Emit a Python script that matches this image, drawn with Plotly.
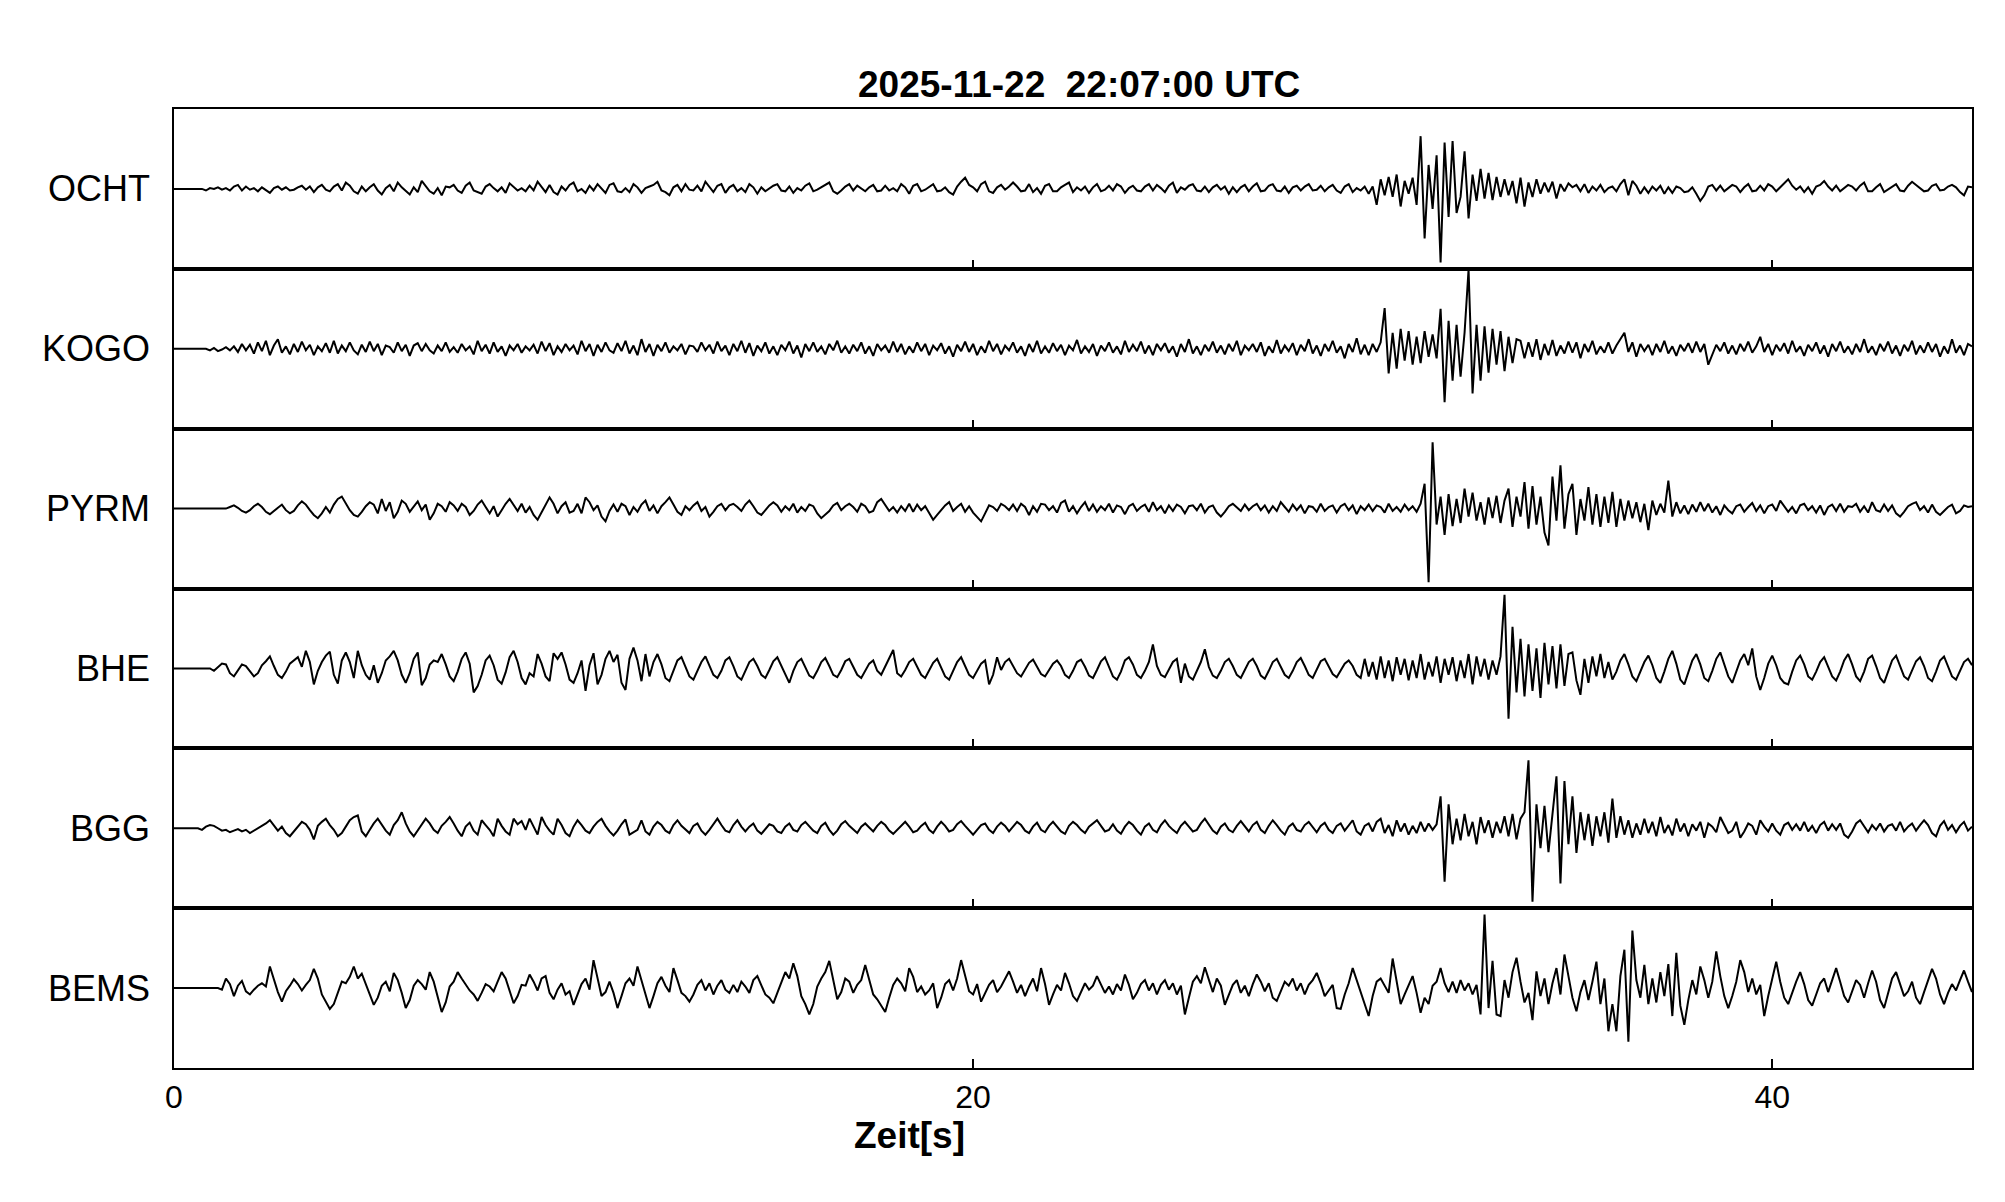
import plotly.graph_objects as go
from plotly.subplots import make_subplots

TITLE = "2025-11-22  22:07:00 UTC"
X_TITLE = "Zeit[s]"
STATIONS = ["OCHT", "KOGO", "PYRM", "BHE", "BGG", "BEMS"]
SAMPLE_INTERVAL = 0.1  # seconds
X_TICKS = [0, 20, 40]

OCHT = [
    0, 0, 0, 0, 0, 0, 0, 0, -2, 1,
    0, 2, -1, 1, -2, 3, 5, -2, 3, -1,
    1, -3, 2, -2, -5, 1, 3, -1, 2, -2,
    -1, 2, 4, -1, 3, -4, 2, 5, -1, -3,
    3, 6, -2, 8, 4, -3, -6, 3, -3, 2,
    6, -2, -7, 1, 5, -3, 8, 2, -2, -7,
    2, -4, 10, 3, -3, -6, 1, -8, 3, 2,
    5, -2, -5, 4, 8, -2, -4, -6, 3, 6,
    1, -3, 2, -5, 7, 3, -2, 1, -3, 4,
    -2, 9, 3, -4, 5, -4, -7, 3, -2, 5,
    8, -3, 0, -5, 4, -2, 6, 1, -5, 5,
    7, -3, -4, 1, -4, 6, 2, -5, 1, 3,
    5, 9, -2, -4, -8, 2, 5, -3, 6, -1,
    -2, 4, -3, 9, 2, -4, 4, 6, -5, 2,
    5, -3, 1, -4, 6, 2, -6, 2, -3, 1,
    4, 6, -2, -3, 3, -5, 1, -2, 4, 7,
    -3, -1, 2, 5, 8, -3, -6, -2, 3, 6,
    -2, 4, 1, -3, 2, 5, -3, -2, 4, -2,
    1, -3, 6, 2, -6, 4, 6, -3, -1, 2,
    6, -3, -2, 2, -4, -7, 3, 9, 14, 5,
    2, -3, 6, 9, -3, -5, 2, 5, -1, 3,
    8, 3, -3, -2, 6, -4, 1, -6, 4, 6,
    -3, -3, 2, 5, 8, -4, 2, -2, 3, -5,
    2, 6, -3, -1, 4, -2, 6, 3, -5, 1,
    4, -2, -3, 3, 6, -2, 5, 1, -4, 4,
    8, -5, 2, -1, 4, 6, -2, -3, 3, -4,
    2, 5, -1, 3, -6, 2, -4, 2, 5, -3,
    3, 7, -3, -2, 4, 6, -2, -3, 3, -5,
    2, 4, -2, 3, 6, -2, -1, 4, -3, 2,
    5, -2, -5, 3, 6, -4, 1, -2, 3, -6,
    3, -20, 12, -8, 15, -10, 18, -22, 10, -6,
    14, -20, 66, -62, 30, -25, 42, -92, 58, -35,
    60, -30, -10, 47, -37, 18, -15, 25, -12, 20,
    -14, 15, -10, 12, -8, 10, -18, 14, -22, 8,
    -10, 12, -6, 8, -4, 9, -12, 6, -3, 7,
    2, 5, -3, 6, -5, 3, -2, 5, -4, 1,
    3, -3, 6, 12, -8, 10, 4, -6, 2, -5,
    3, -2, 4, -6, 2, -5, 3, 1, -4, -3,
    2, -6, -15, -8, 3, 5, -2, 4, -3, 1,
    5, 3, -4, 2, 6, -3, -2, 4, -2, 6,
    3, -3, 2, 7, 12, 4, -1, 3, -4, 2,
    -6, 3, 5, 10, 3, -2, 4, -3, 1, 5,
    3, -2, 4, 8, -3, -3, 2, 6, -4, -1,
    3, 6, -2, -3, 4, 9, 5, 1, -3, -2,
    4, 6, -2, -1, 3, 5, 2, -4, -8, 3,
    2,
]

KOGO = [
    0, 0, 0, 0, 0, 0, 0, 0, 0, -2,
    1, -3, -1, 2, -2, 3, -4, 6, -2, 5,
    -6, 8, -3, 10, -8, 4, 12, -5, 3, -7,
    6, -4, 9, -2, 5, -8, 3, -3, 7, -5,
    10, -6, 4, -3, 8, -2, -7, 5, -4, 9,
    -3, 6, -8, 4, 2, -5, 8, -3, 5, -9,
    4, 7, -3, 6, -2, -6, 4, -3, 8, -4,
    2, -5, 6, -2, 3, -7, 10, -3, 5, -6,
    8, -4, 3, -9, 4, -2, 6, -5, 3, -2,
    5, -6, 9, -3, 7, -8, 3, -4, 6, -2,
    4, -7, 10, -3, 6, -9, 5, -4, 8, -2,
    -5, 7, -3, 10, -6, 4, -8, 12, -4, 6,
    -9, 5, -3, 8, -5, 3, -2, 6, -7, 4,
    3, -4, 8, -2, 5, -6, 9, -3, 4, -8,
    6, -3, 10, -5, 7, -9, 4, -3, 8, -6,
    3, -8, 5, -2, 9, -6, 4, -11, 6, -3,
    8, -4, 3, -7, 6, -2, 10, -5, 3, -6,
    5, -3, 8, -6, 3, -9, 6, -2, 4, -5,
    9, -4, 6, -7, 3, -5, 8, -3, 6, -8,
    4, -2, 7, -6, 3, -10, 5, -3, 9, -4,
    6, -8, 3, -5, 10, -3, 6, -7, 4, -2,
    8, -5, 3, -9, 6, -4, 10, -6, 3, -5,
    7, -3, 5, -8, 4, -2, 11, -6, 3, -4,
    6, -9, 4, -3, 8, -5, 3, -7, 10, -4,
    5, -3, 9, -6, 4, -8, 6, -2, 7, -5,
    3, -10, 6, -4, 12, -6, 3, -8, 5, -3,
    9, -5, 4, -7, 6, -3, 10, -8, 4, -2,
    6, -4, 8, -9, 3, -5, 11, -6, 4, -3,
    7, -8, 5, -3, 12, -6, 4, -9, 6, -3,
    10, -5, 3, -12, 6, -4, 13, -7, 5, -8,
    6, -4, 8, 51, -31, 20, -25, 25, -15, 22,
    -20, 15, -18, 22, -10, 18, -12, 50, -67, 35,
    -40, 30, -35, 20, 99, -56, 30, -40, 28, -30,
    25, -20, 22, -28, 15, -18, 12, 10, -12, 8,
    -10, 12, -14, 6, -8, 11, -9, 4, -6, 9,
    -5, 8, -12, 6, -4, 10, -7, 3, -5, 8,
    -6, 4, 12, 20, -4, 8, -10, 6, -3, 5,
    -8, 6, -4, 10, -6, 3, -9, 5, -3, 7,
    -5, 9, -4, 6, -20, -8, 5, -3, 8, -6,
    4, -7, 6, -3, 9, -5, 3, 15, -4, 6,
    -8, 5, -3, 7, -6, 10, -4, 3, -9, 5,
    -3, 8, -6, 4, -10, 6, -3, 9, -5, 3,
    -7, 6, -4, 12, -5, 3, -8, 6, -3, 9,
    -6, 4, -9, 5, -3, 10, -7, 4, -5, 8,
    -4, 6, -10, 3, -6, 12, -5, 4, -8, 6,
    3,
]

PYRM = [
    0, 0, 0, 0, 0, 0, 0, 0, 0, 0,
    0, 0, 0, 0, 2, 4, 1, -3, -5, -2,
    3, 6, 2, -4, -7, -3, 1, 5, -2, -6,
    -3, 4, 9, 5, -2, -8, -12, -6, 2, -5,
    5, 12, 15, 6, -2, -8, -10, -4, 3, 8,
    5, -6, 12, -3, 8, -12, -4, 10, 6, -4,
    3, 9, -2, 5, -14, -6, 6, 3, -4, 8,
    4, -3, 6, 2, -8, -3, 5, 10, 2, -6,
    3, -10, -2, 6, 12, 4, -3, 6, -5, 2,
    -8, -14, -4, 5, 14, 6, -6, 3, 8, -5,
    -3, 6, -6, 14, 8, -2, 4, -10, -16, -3,
    5, -4, 6, 3, -8, 2, -4, 5, 10, -3,
    4, -6, 3, 8, 14, 5, -4, -8, 3, -2,
    4, 8, -3, 2, -10, -4, 3, 6, -2, 4,
    6, 2, -3, 5, 10, 3, -5, -8, -2, 4,
    8, 4, -4, 3, -2, 6, -5, 2, -3, 5,
    3, -6, -12, -8, -3, 4, 7, -2, 3, 6,
    2, -4, 6, 3, -5, -3, 8, 12, 4, -3,
    2, -5, 3, -3, 6, -4, 5, -2, 3, -6,
    -14, -8, -2, 4, 8, -3, 2, 6, -4, 3,
    -5, -10, -16, -6, 4, 2, -3, 6, 3, -2,
    5, -3, 6, 2, -8, 3, -4, 6, 5, -2,
    3, -5, 7, 10, -4, 3, -6, 2, 8, -3,
    5, -4, 3, -2, 6, -5, 4, 2, -7, 3,
    6, -3, 2, 5, -4, 8, -2, 3, -6, 4,
    -3, 5, 2, -6, 3, 4, -2, 6, -5, 2,
    4, -5, -10, -4, 3, 6, 2, -3, 5, -2,
    3, 6, -2, 4, -5, 3, -3, 8, 2, -4,
    5, -2, 4, -6, 3, 2, -4, 6, -3, 2,
    4, -5, 3, 6, -2, 4, -7, 3, -2, 5,
    -3, 4, 2, -5, 6, -3, 2, -4, 5, -2,
    3, -4, 6, 31, -92, 83, -20, 15, -33, 18,
    -22, 12, -18, 25, -10, 20, -15, 8, -20, 14,
    -12, 16, -18, 10, 25, -23, 15, -10, 33, -25,
    28, -20, 15, -30, -46, 40, -15, 54, -25, 18,
    31, -33, 12, -15, 27, -20, 18, -23, 15, -18,
    21, -23, 12, -15, 10, -12, 8, -17, 6, -27,
    10, -8, 6, -5, 35, -10, 8, -6, 4, -7,
    5, -4, 8, -3, 6, -5, 3, -8, 4, -2,
    -6, 3, 5, -4, 2, 7, -3, 4, -6, 3,
    5, -3, 10, 3, -4, 2, -6, 4, 6, -2,
    3, -5, 4, -8, 2, 5, -3, 6, -4, 3,
    2, 6, -4, 3, -5, 8, -2, -4, 5, -3,
    4, -6, -10, -4, 3, 6, 8, -2, 3, -5,
    5, -4, -8, -3, 2, 5, -6, -3, 4, 2,
    3,
]

BHE = [
    0, 0, 0, 0, 0, 0, 0, 0, 0, 0,
    -3, 2, 6, 5, -6, -10, -3, 5, 3, -4,
    -10, -6, 4, 9, 15, 3, -8, -12, -4, 6,
    10, 14, 2, 22, 8, -20, -3, 8, 16, 21,
    -8, -19, 10, 20, 8, -12, 22, 4, -8, -14,
    4, -18, -6, 10, 15, 22, 10, -8, -18, -6,
    12, 20, -21, -12, 5, 10, 8, 18, 5, -10,
    -16, -4, 12, 20, 6, -30, -22, -8, 10, 16,
    4, -14, -19, -5, 14, 22, 8, -12, -20, -6,
    -10, 18, 6, -10, -16, 19, 12, 20, 5, -14,
    -18, -6, 10, -28, 4, 19, -20, -8, 12, 22,
    8, 17, -18, -27, 12, 26, 10, -16, 18, -10,
    8, 18, 5, -12, -16, -4, 10, 14, 3, -10,
    -14, -4, 8, 15, 4, -8, -12, -3, 10, 14,
    3, -10, -14, -4, 8, 12, 3, -8, -12, -2,
    9, 14, 4, -8, -18, -3, 8, 12, 2, -9,
    -12, -3, 8, 13, 3, -8, -11, -2, 9, 12,
    2, -8, -12, -3, 6, 10, -3, -8, 2, 12,
    23, -6, -10, -2, 8, 12, 2, -8, -12, -3,
    7, 12, 2, -10, -14, -4, 8, 14, 4, -8,
    -12, -3, 6, 10, -20, -8, 14, -2, 8, 12,
    3, -6, -10, -2, 7, 11, 2, -7, -10, -2,
    6, 10, 3, -8, -12, -3, 8, 11, 2, -9,
    -12, -2, 9, 14, 3, -10, -14, -4, 10, 14,
    5, -8, -12, -3, 8, 30, 3, -8, -11, -2,
    8, 12, -18, 6, -10, -14, -4, 8, 24, 2,
    -9, -12, -3, 8, 12, 3, -8, -12, -2, 8,
    12, 3, -9, -13, -3, 8, 12, 2, -8, -12,
    -3, 8, 13, 3, -8, -12, -2, 9, 12, 2,
    -7, -11, -3, 6, 10, 3, -8, -12, 12, -10,
    8, -14, 15, -12, 10, -16, 14, -8, 12, -15,
    10, -12, 18, -14, 8, -10, 15, -18, 12, -8,
    14, -16, 10, -12, 18, -20, 15, -10, 12, -14,
    10, -8, 15, 92, -63, 52, -30, 37, -35, 30,
    -28, 25, -37, 32, -20, 28, -25, 30, -22, 18,
    20, -15, -33, 12, -18, 15, -10, 18, -12, 8,
    -14, -4, 10, 18, 5, -10, -16, -5, 8, 16,
    4, -12, -18, -4, 12, 22, 6, -14, -20, -5,
    10, 18, 5, -12, -16, -3, 12, 20, 6, -10,
    -18, -4, 10, 18, 4, 25, -10, -27, -12, 6,
    16, 4, -12, -18, -20, -4, 10, 16, 5, -10,
    -14, -4, 8, 14, 3, -10, -15, -4, 10, 18,
    5, -10, -16, -4, 12, 16, 3, -12, -18, -4,
    10, 16, 4, -10, -14, -3, 9, 14, 3, -12,
    -16, -4, 10, 15, 3, -10, -14, -3, 8, 12,
    4,
]

BGG = [
    0, 0, 0, 0, 0, 0, 0, -2, 2, 4,
    3, 0, -3, -2, -5, -3, -1, -4, -2, -6,
    -3, -1, 2, 6, 10, 4, -3, 2, -6, -10,
    -4, 2, 8, 5, -2, -14, 3, 8, 12, 4,
    -2, -10, -6, 2, 10, 14, 16, -4, -10, -2,
    6, 12, 4, -3, -8, 4, 10, 20, 6, -4,
    -10, -3, 5, 12, 6, -2, -6, 3, 8, 14,
    6, -3, -10, 2, 7, -3, -8, 10, 4, -2,
    -10, 12, 3, -4, -8, 12, 5, 9, -2, 12,
    2, -8, 14, 4, -3, -8, 12, 4, -6, -10,
    2, 10, 4, -3, -6, 2, 8, 12, 3, -4,
    -9, -3, 5, 11, -8, -5, -2, 10, -4, -8,
    2, 8, 4, -3, -6, 4, 10, 3, -2, -6,
    3, 6, -3, -8, -2, 5, 12, 4, -3, -5,
    4, 10, 2, -4, 2, 6, -3, -7, -1, 5,
    3, -4, -6, 2, 6, -2, -4, 4, 8, 2,
    -3, -6, 3, 7, -2, -8, -3, 5, 9, 3,
    -2, -6, 2, 6, 1, -4, 3, 8, 4, -3,
    -7, -2, 4, 8, 2, -5, -3, 3, 7, -2,
    -6, 2, 8, 3, -4, -2, 5, 9, 3, -3,
    -8, -2, 4, 6, -2, -6, 2, 7, 3, -4,
    2, 8, 4, -3, -6, 2, 7, -2, -5, 3,
    8, 2, -4, -7, 3, 8, 4, -2, -6, 2,
    6, 10, 3, -4, -2, 5, -3, -7, 2, 8,
    4, -3, -8, 2, 6, -2, -5, 4, 10, 3,
    -2, -6, 3, 8, 2, -4, -2, 6, 12, 4,
    -3, -7, 2, 6, -2, -5, 3, 9, 2, -4,
    4, 8, -2, -6, 3, 10, 4, -3, -8, 2,
    6, -2, -4, 4, 8, 2, -5, 3, 7, -2,
    -6, 3, 6, -3, 4, 10, -4, -8, 3, 6,
    -4, 8, 12, -6, 4, -10, 10, -4, 6, -8,
    3, -6, 8, -4, 6, -2, 5, 40, -67, 30,
    -20, 12, -15, 18, -10, 8, -20, 14, -6, 10,
    -12, 8, -6, 15, -10, 18, -14, 12, 20, 85,
    -92, 30, -25, 28, -30, 20, 65, -69, 59, -20,
    40, -31, 20, -15, 18, -22, 15, -10, 20, -18,
    37, -12, 15, -8, 10, -12, 6, -8, 12, -6,
    8, -10, 14, -6, 4, -9, 12, -4, 6, -10,
    5, -3, 8, -12, 6, 2, -5, 14, 4, -6,
    -3, 8, -12, -4, 6, 3, -8, 10, 2, -4,
    6, -3, -8, 4, 7, -2, 5, -3, 8, -4,
    3, -6, 4, 8, -3, 5, -2, 6, -8, -12,
    -4, 6, 10, 3, -5, 4, -2, 6, -4, 3,
    5, -3, 8, -4, 2, 6, -3, 4, 10, 4,
    -6, -10, 3, 9, -2, 4, -5, 3, 8, -3,
    2,
]

BEMS = [
    0, 0, 0, 0, 0, 0, 0, 0, 0, 0,
    0, 0, -2, 12, 5, -10, 3, 9, -4, -8,
    -2, 3, 6, 2, 27, 10, -5, -17, -4, 3,
    11, 5, -3, 4, 10, 24, 12, -8, -18, -26,
    -20, -5, 8, 6, 14, 27, 12, 18, 5, -10,
    -21, -12, 3, 8, -4, 19, 10, -6, -25, -15,
    3, 10, 5, -2, 20, 8, -12, -30, -18, 2,
    8, 20, 12, 4, -3, -8, -16, -6, 5, 2,
    -4, 8, 20, 12, -5, -19, -10, 4, 3, 17,
    8, -3, 12, 15, -6, -14, -2, 6, -8, -4,
    -21, -8, 5, 12, -2, 35, 12, -10, -5, 8,
    -6, -25, -10, 6, 12, 3, 27, 10, -8, -25,
    -10, 6, 14, 3, -5, 25, 10, -6, -10, -17,
    -8, 4, 10, -3, 6, -8, 3, 10, -2, -6,
    4, -5, 8, 2, -6, 10, 15, 3, -8, -12,
    -19, -6, 8, 20, 12, 31, 15, -10, -20, -33,
    -20, 2, 12, 20, 34, 10, -14, -5, 12, 8,
    -6, 4, 10, 29, 12, -8, -14, -22, -30, -12,
    4, 12, 6, -4, 25, 14, -5, 2, -8, -3,
    6, -25, -12, 5, 10, -3, 12, 35, 15, -4,
    -8, 5, -17, -6, 4, 10, -5, 2, 12, 21,
    8, -6, 4, -10, 2, 12, -4, 25, 5, -21,
    -8, 4, -3, 19, 6, -10, -16, -4, 6, -2,
    3, 15, 4, -6, 2, -8, 5, -3, 17, 4,
    -14, -6, 5, 10, -3, 6, -8, 4, 10, -2,
    6, -8, 3, -33, -12, 8, 15, 6, 26, 10,
    -5, 12, 3, -21, -8, 4, 10, -6, 3, -10,
    5, 17, 8, -4, 6, -12, -16, -4, 8, 3,
    12, -3, 6, -8, 4, 10, 19, 6, -10, -3,
    4, -25, -26, -8, 6, 25, 10, -6, -20, -35,
    -10, 8, 12, 3, -6, 37, 10, -20, -8, 4,
    15, -6, -31, -12, -20, 3, 8, 25, 6, -5,
    8, -6, 10, -3, 6, -8, 4, -33, 92, -25,
    34, -33, -35, 10, -12, 20, 38, 8, -18, -6,
    -40, 21, -10, 12, -20, 6, 25, -8, 42, 15,
    -12, -29, -5, 10, -15, 8, 33, -20, 12, -54,
    -20, -54, 15, 48, -67, 72, 10, -12, 29, -20,
    12, -18, 20, -10, 30, -35, 44, -22, -46, -15,
    10, -8, 27, 10, -12, 8, 46, 15, -10, -25,
    -10, 8, 35, 20, -5, 12, -8, 4, -35, -10,
    10, 33, 8, -12, -20, -5, 8, 20, 5, -15,
    -22, -8, 6, 12, -5, 10, 25, 8, -10, -18,
    -4, 10, 4, -12, 6, 22, 8, -15, -25, -6,
    12, 20, 5, -10, -4, 8, -12, -20, -5, 10,
    24, 12, -8, -20, -6, 5, -3, 10, 22, 8,
    -5,
]

TRACES = [OCHT, KOGO, PYRM, BHE, BGG, BEMS]

FONT = "Liberation Sans, Arial, Helvetica, sans-serif"
N = len(STATIONS)

fig = make_subplots(rows=N, cols=1, shared_xaxes=True, vertical_spacing=0)

for i, (name, vals) in enumerate(zip(STATIONS, TRACES), start=1):
    t = [k * SAMPLE_INTERVAL for k in range(len(vals))]
    fig.add_trace(
        go.Scatter(x=t, y=vals, mode="lines",
                   line=dict(color="black", width=2),
                   hoverinfo="skip", showlegend=False, name=name),
        row=i, col=1,
    )
    fig.update_yaxes(range=[-100, 100], showline=True, mirror=True,
                     linecolor="black", linewidth=2, showticklabels=False,
                     ticks="", showgrid=False, zeroline=False, fixedrange=True,
                     row=i, col=1)
    yref = "y" if i == 1 else f"y{i}"
    fig.add_annotation(text=name, xref="paper", x=0, xanchor="right", xshift=-22,
                       yref=yref, y=0, yanchor="middle", showarrow=False,
                       font=dict(family=FONT, size=36, color="black"))

fig.update_xaxes(range=[0, 45], showline=True, mirror=True, linecolor="black",
                 linewidth=2, ticks="inside", tickvals=X_TICKS, ticklen=9,
                 tickwidth=2, tickcolor="black", showgrid=False, zeroline=False,
                 tickfont=dict(family=FONT, size=32, color="black"))

fig.add_annotation(text=f"<b>{TITLE}</b>", xref="paper", x=0.5036, xanchor="center",
                   yref="paper", y=1.0255, yanchor="middle", showarrow=False,
                   font=dict(family=FONT, size=37, color="black"))
fig.add_annotation(text=f"<b>{X_TITLE}</b>", xref="paper", x=0.4088, xanchor="center",
                   yref="paper", y=-0.0705, yanchor="middle", showarrow=False,
                   font=dict(family=FONT, size=37, color="black"))

fig.update_layout(
    width=2005, height=1202,
    margin=dict(l=174, r=33, t=109, b=134),
    paper_bgcolor="white", plot_bgcolor="white",
    font=dict(family=FONT, color="black"),
)

fig.write_html("out.html", config={"displayModeBar": False},
               post_script="document.body.style.margin='0';")
